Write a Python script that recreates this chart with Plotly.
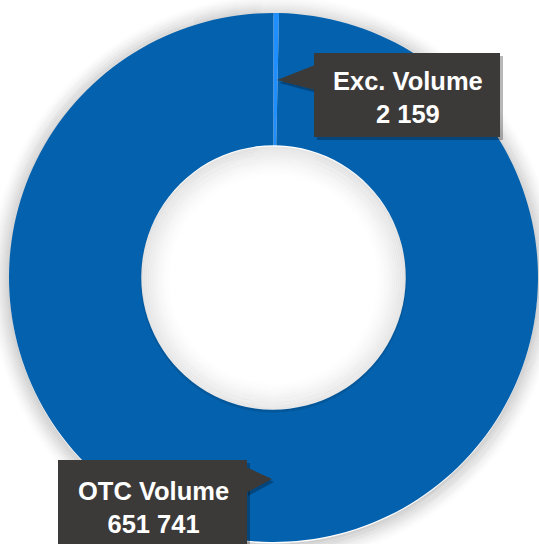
import plotly.graph_objects as go

# ---- data ----
labels = ["Exc. Volume", "OTC Volume"]
values = [2159, 651741]
value_text = ["2 159", "651 741"]
colors = ["#1f8fff", "#0461ad"]

W, H = 539, 544


def px(x):
    return x / W


def py(y):
    return 1 - y / H


fig = go.Figure()
fig.add_trace(go.Pie(
    labels=labels,
    values=values,
    hole=0.5,
    sort=False,
    direction="clockwise",
    rotation=0,
    textinfo="none",
    hoverinfo="label+value",
    marker=dict(colors=colors, line=dict(width=0)),
    showlegend=False,
    domain=dict(x=[px(9), px(538)], y=[py(542), py(13)]),
))

shapes = []
cx, cy = 273.5, 277.5
R_out, R_in = 264.5, 132.5

# soft outer shadow (rings fading outward, beneath the donut)
N = 22
for k in range(0, N):
    r = R_out + k
    a = 0.16 * (1 - k / N) ** 1.5
    shapes.append(dict(type="circle", xref="paper", yref="paper", layer="below",
                       x0=px(cx - r), x1=px(cx + r), y0=py(cy + 2 + r), y1=py(cy + 2 - r),
                       fillcolor="rgba(0,0,0,0)", line=dict(width=1.2, color=f"rgba(0,0,0,{a:.4f})")))

# inner hole shading (rings fading inward)
M = 16
for k in range(0, M):
    r = R_in - 0.5 - k * 2
    a = 0.1 * (1 - k / M) ** 1.5
    shapes.append(dict(type="circle", xref="paper", yref="paper", layer="above",
                       x0=px(cx - r), x1=px(cx + r), y0=py(cy + 2 + r), y1=py(cy + 2 - r),
                       fillcolor="rgba(0,0,0,0)", line=dict(width=2.2, color=f"rgba(0,0,0,{a:.4f})")))

box_col = "#3c3a38"
shadow_col = "rgba(0,0,0,0.28)"


def callout(x0, y0, x1, y1, tip, base_x, b0, b1):
    shapes.append(dict(type="rect", xref="paper", yref="paper", layer="above",
                       x0=px(x0 + 3), x1=px(x1 + 3), y0=py(y1 + 3), y1=py(y0 + 3),
                       fillcolor=shadow_col, line=dict(width=0)))
    shapes.append(dict(type="path", xref="paper", yref="paper", layer="above",
                       path=f"M {px(tip[0]+2)} {py(tip[1]+3)} L {px(base_x+2)} {py(b0+3)} L {px(base_x+2)} {py(b1+3)} Z",
                       fillcolor=shadow_col, line=dict(width=0)))
    shapes.append(dict(type="rect", xref="paper", yref="paper", layer="above",
                       x0=px(x0), x1=px(x1), y0=py(y1), y1=py(y0),
                       fillcolor=box_col, line=dict(width=0)))
    shapes.append(dict(type="path", xref="paper", yref="paper", layer="above",
                       path=f"M {px(tip[0])} {py(tip[1])} L {px(base_x)} {py(b0)} L {px(base_x)} {py(b1)} Z",
                       fillcolor=box_col, line=dict(width=0)))


callout(314, 53, 500, 137, (277, 80), 315, 65, 90)
callout(58, 460, 247, 548, (272, 479), 246, 467, 493)

fig.update_layout(shapes=shapes)

font = dict(family="Liberation Sans, Arial, sans-serif", size=25.5, color="white")
fig.add_annotation(x=px(408), y=py(97), xref="paper", yref="paper",
                   text=f"<b>{labels[0]}<br>{value_text[0]}</b>", showarrow=False,
                   font=font, align="center", xanchor="center", yanchor="middle")
fig.add_annotation(x=px(153), y=py(507.5), xref="paper", yref="paper",
                   text=f"<b>{labels[1]}<br>{value_text[1]}</b>", showarrow=False,
                   font=font, align="center", xanchor="center", yanchor="middle")

fig.update_layout(width=W, height=H, margin=dict(l=0, r=0, t=0, b=0),
                  paper_bgcolor="white", plot_bgcolor="white")

fig.write_html("out.html", config={"displayModeBar": False},
               post_script="document.body.style.margin='0';document.body.style.overflow='hidden';")
